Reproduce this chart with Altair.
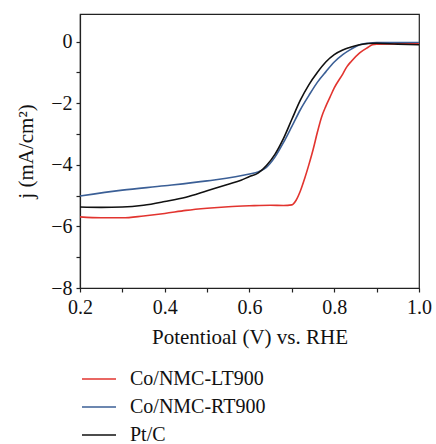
import altair as alt
import pandas as pd

series_names = ["Co/NMC-LT900", "Co/NMC-RT900", "Pt/C"]
series_colors = ["#e2342f", "#3b5f96", "#111111"]

lt_v = [0.20, 0.25, 0.30, 0.35, 0.40, 0.45, 0.50, 0.55, 0.60, 0.65, 0.68, 0.70, 0.71, 0.72, 0.73, 0.74,
        0.75, 0.76, 0.77, 0.78, 0.79, 0.80, 0.82, 0.83, 0.84, 0.86, 0.88, 0.89, 0.90, 0.95, 1.00]
lt_j = [-5.69, -5.72, -5.72, -5.66, -5.58, -5.48, -5.41, -5.36, -5.33, -5.31, -5.32, -5.30, -5.15, -4.85,
        -4.45, -4.00, -3.51, -2.95, -2.45, -2.10, -1.80, -1.50, -1.05, -0.81, -0.64, -0.36, -0.18, -0.10,
        -0.08, -0.07, -0.07]

rt_v = [0.20, 0.30, 0.40, 0.50, 0.60, 0.62, 0.64, 0.66, 0.68, 0.70, 0.72, 0.74, 0.76, 0.78, 0.80, 0.82,
        0.84, 0.86, 0.88, 0.90, 1.00]
rt_j = [-5.01, -4.82, -4.68, -4.52, -4.30, -4.23, -4.08, -3.75, -3.28, -2.75, -2.21, -1.75, -1.32, -0.98,
        -0.66, -0.42, -0.24, -0.10, -0.05, -0.03, -0.03]

pt_v = [0.20, 0.25, 0.30, 0.35, 0.40, 0.45, 0.50, 0.55, 0.58, 0.60, 0.62, 0.64, 0.66, 0.68, 0.70, 0.72,
        0.74, 0.76, 0.78, 0.80, 0.82, 0.84, 0.86, 0.88, 0.90, 0.95, 1.00]
pt_j = [-5.37, -5.38, -5.37, -5.31, -5.19, -5.05, -4.84, -4.63, -4.50, -4.38, -4.27, -4.02, -3.66, -3.15,
        -2.52, -1.90, -1.40, -1.00, -0.66, -0.42, -0.27, -0.17, -0.10, -0.06, -0.05, -0.08, -0.10]

x_ticks = [0.2, 0.3, 0.4, 0.5, 0.6, 0.7, 0.8, 0.9, 1.0]
y_ticks = [-8, -7, -6, -5, -4, -3, -2, -1, 0]

rows = []
for name, vs, js in [("Co/NMC-RT900", rt_v, rt_j), ("Co/NMC-LT900", lt_v, lt_j), ("Pt/C", pt_v, pt_j)]:
    for i, (v, j) in enumerate(zip(vs, js)):
        rows.append({"series": name, "v": v, "j": j, "i": i})
df = pd.DataFrame(rows)

FONT = "Liberation Serif"

chart = alt.Chart(df).mark_line(strokeWidth=1.6, interpolate="monotone").encode(
    x=alt.X("v:Q", scale=alt.Scale(domain=[0.2, 1.0], nice=False, zero=False),
            axis=alt.Axis(title="Potentioal (V) vs. RHE", values=x_ticks,
                          labelExpr="round(datum.value*10) % 2 == 0 ? format(datum.value, '.1f') : ''",
                          labelFlush=False, labelOverlap=False, grid=False,
                          tickSize=4, labelPadding=5, titlePadding=9)),
    y=alt.Y("j:Q", scale=alt.Scale(domain=[-8, 0.9], nice=False, zero=False),
            axis=alt.Axis(title="j (mA/cm²)", values=y_ticks,
                          labelExpr="datum.value % 2 == 0 ? format(datum.value, 'd') : ''",
                          labelFlush=False, labelOverlap=False, grid=False,
                          tickSize=4, labelPadding=4, titlePadding=14)),
    color=alt.Color("series:N", scale=alt.Scale(domain=series_names, range=series_colors),
                    legend=alt.Legend(title=None, orient="none", legendX=1, legendY=347,
                                      symbolType="stroke", symbolSize=1156, symbolStrokeWidth=1.6,
                                      labelFontSize=20, labelFont=FONT, labelColor="#111",
                                      labelOffset=13, rowPadding=-7, padding=0)),
    detail="series:N",
    order="i:Q",
).properties(
    width=339, height=274,
    autosize=alt.AutoSizeParams(type="none"),
    padding={"left": 80, "top": 14, "right": 17, "bottom": 156},
).configure_view(
    stroke="#222", strokeWidth=1.2
).configure_axis(
    labelFont=FONT, titleFont=FONT, labelFontSize=20, titleFontSize=21,
    titleFontWeight="normal", labelColor="#111", titleColor="#111",
    domainColor="#222", tickColor="#222", domainWidth=1.2, tickWidth=1.2,
)

chart.save("out.html", embed_options={"renderer": "svg", "actions": False})
